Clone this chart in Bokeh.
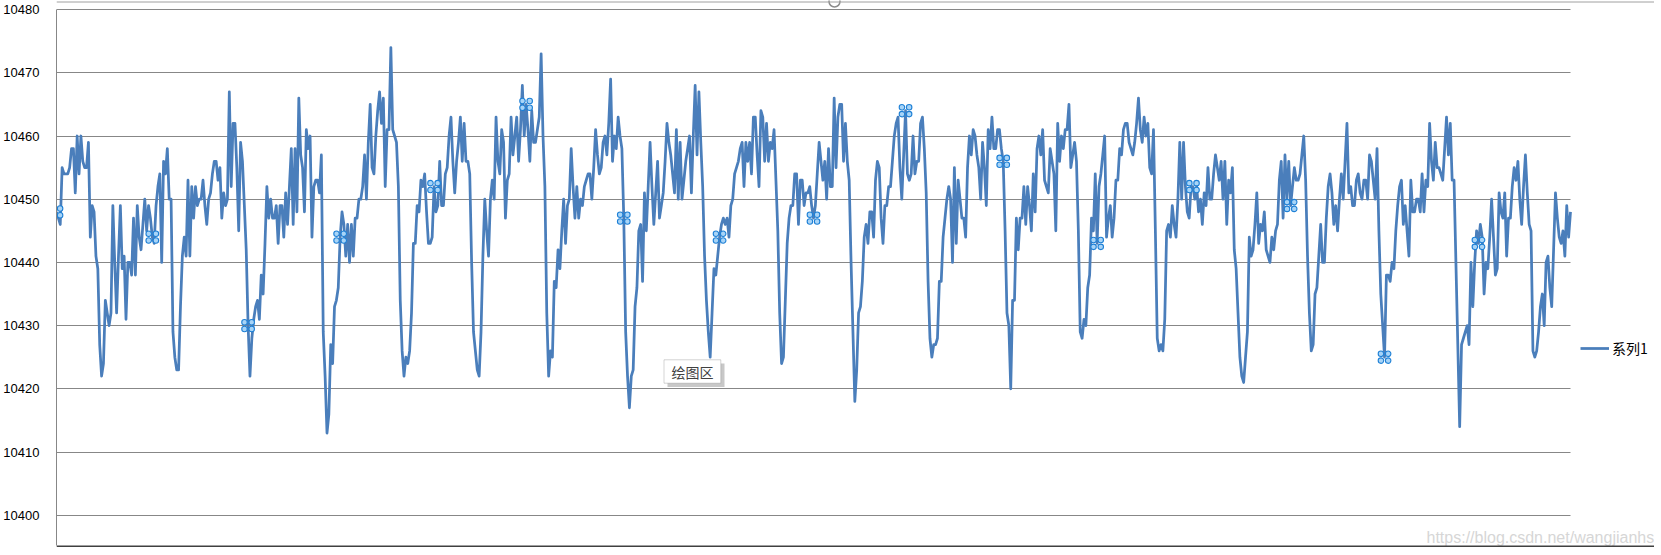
from bokeh.plotting import figure
from bokeh.models import FixedTicker, Legend, LegendItem, Label, BoxAnnotation, Range1d, Span
from bokeh.embed import file_html
from bokeh.resources import INLINE

# ---------------- data ----------------
series_name = "系列1"
y_ticks = [10400, 10410, 10420, 10430, 10440, 10450, 10460, 10470, 10480]

seg1 = [10448, 10447, 10446, 10455, 10454, 10454, 10454, 10455, 10458, 10458,
        10451, 10460, 10454, 10460, 10456, 10455, 10455, 10459, 10444, 10449,
        10448, 10441, 10439, 10427, 10422, 10424, 10434, 10432, 10430, 10432,
        10449, 10440, 10432, 10441, 10449, 10439, 10441, 10431, 10440, 10440,
        10438, 10447, 10438, 10449, 10444, 10442, 10446, 10450, 10445, 10449,
        10447, 10444, 10443, 10449, 10452, 10454, 10440, 10456, 10454, 10458,
        10450, 10450, 10429, 10425, 10423, 10423, 10433, 10441, 10444, 10441,
        10453, 10441, 10452, 10447, 10452, 10449, 10450, 10450, 10453, 10449,
        10446, 10450, 10451, 10454, 10456, 10456, 10453, 10455, 10447, 10451,
        10449, 10450, 10467, 10452, 10462, 10462, 10455, 10445, 10459]
seg2 = [10456, 10449, 10442, 10430, 10422, 10428, 10431, 10433, 10434, 10431,
        10438, 10435, 10443, 10452, 10447, 10450, 10447, 10447, 10449, 10443,
        10449, 10449, 10444, 10451, 10446, 10452, 10458, 10446, 10458, 10448,
        10466, 10457, 10455, 10448, 10461, 10458, 10460, 10444, 10452, 10453,
        10453, 10451, 10457, 10429, 10422, 10413, 10416, 10427, 10424, 10433,
        10434, 10436, 10444, 10448, 10446, 10441, 10446, 10440, 10446, 10441,
        10447, 10447, 10450, 10450, 10452, 10457, 10450, 10459, 10465, 10455,
        10454, 10460, 10464, 10467, 10462, 10466, 10452, 10461, 10461, 10474,
        10461, 10460, 10459, 10452, 10434, 10426, 10422, 10425, 10424, 10426,
        10432, 10443, 10443, 10449, 10448, 10453, 10452, 10454, 10448, 10443]
seg3 = [10443, 10444, 10452, 10448, 10449, 10456, 10449, 10449, 10454, 10455,
        10460, 10463, 10456, 10451, 10456, 10459, 10463, 10456, 10462, 10456,
        10456, 10454, 10440, 10429, 10426, 10423, 10422, 10429, 10441, 10450,
        10445, 10441, 10450, 10453, 10450, 10463, 10456, 10454, 10461, 10459,
        10447, 10453, 10454, 10463, 10457, 10460, 10463, 10456, 10461, 10468,
        10460, 10465, 10461, 10456, 10464, 10459, 10459, 10461, 10463, 10473,
        10460, 10452, 10432, 10422, 10426, 10425, 10437, 10436, 10442, 10439,
        10445, 10450, 10443, 10449, 10450, 10458, 10452, 10447, 10452, 10447,
        10450, 10449, 10452, 10453, 10454, 10454, 10450, 10455, 10461, 10457,
        10454, 10455, 10459, 10460, 10457, 10462, 10469, 10456, 10460, 10458]
seg4 = [10463, 10460, 10458, 10447, 10429, 10422, 10417, 10422, 10423, 10433,
        10436, 10445, 10446, 10437, 10451, 10445, 10452, 10459, 10452, 10446,
        10451, 10456, 10447, 10449, 10451, 10456, 10462, 10459, 10457, 10454,
        10451, 10461, 10450, 10459, 10450, 10453, 10456, 10458, 10460, 10451,
        10460, 10468, 10457, 10467, 10459, 10452, 10441, 10434, 10429, 10425,
        10432, 10439, 10438, 10441, 10444, 10446, 10447, 10446, 10447, 10444,
        10449, 10450, 10454, 10455, 10456, 10458, 10459, 10452, 10459, 10456,
        10459, 10454, 10463, 10463, 10457, 10452, 10464, 10463, 10456, 10462,
        10456, 10459, 10458, 10461, 10453, 10445, 10432, 10424, 10425, 10434,
        10443, 10447, 10449, 10449, 10454, 10454, 10446, 10453, 10453, 10449,
        10451, 10451]
seg5 = [10452, 10449, 10447, 10449, 10454, 10459, 10456, 10453, 10456, 10450,
        10458, 10452, 10452, 10466, 10455, 10463, 10465, 10465, 10456, 10462,
        10456, 10453, 10440, 10429, 10418, 10423, 10432, 10433, 10437, 10444,
        10446, 10443, 10448, 10448, 10444, 10453, 10456, 10455, 10447, 10443,
        10449, 10449, 10452, 10452, 10456, 10460, 10462, 10463, 10455, 10450,
        10457, 10464, 10454, 10453, 10454, 10460, 10454, 10456, 10456, 10462,
        10463, 10458, 10451, 10437, 10428, 10425, 10427, 10427, 10428, 10437,
        10437, 10444, 10447, 10450, 10452, 10450, 10440, 10455, 10443, 10453,
        10450, 10447, 10447, 10444, 10455, 10460, 10457, 10461, 10460, 10457,
        10455, 10450, 10459, 10455, 10449, 10461, 10458, 10463, 10458, 10458,
        10461]
seg6 = [10461, 10458, 10456, 10445, 10432, 10430, 10420, 10434, 10434, 10447,
        10442, 10447, 10447, 10452, 10446, 10452, 10449, 10445, 10454, 10448,
        10458, 10460, 10457, 10461, 10453, 10452, 10451, 10458, 10456, 10454,
        10445, 10462, 10456, 10460, 10458, 10461, 10461, 10465, 10455, 10457,
        10459, 10456, 10445, 10429, 10428, 10431, 10430, 10436, 10438, 10447,
        10445, 10454, 10443, 10452, 10454, 10457, 10460, 10444, 10447, 10449,
        10444, 10447, 10453, 10453, 10458, 10457, 10461, 10462, 10462, 10459,
        10458, 10457, 10459, 10462, 10466, 10461, 10459, 10463, 10460, 10462,
        10455, 10454, 10461, 10445, 10428, 10426, 10427, 10426, 10431, 10445,
        10446, 10444, 10449, 10446, 10444, 10450, 10459, 10450, 10459, 10452,
        10448, 10447]
seg7 = [10452, 10452, 10450, 10452, 10448, 10450, 10446, 10451, 10449, 10455,
        10450, 10450, 10454, 10457, 10455, 10453, 10456, 10450, 10456, 10446,
        10453, 10451, 10455, 10442, 10439, 10432, 10425, 10422, 10421, 10425,
        10429, 10444, 10441, 10442, 10446, 10451, 10443, 10446, 10445, 10448,
        10442, 10441, 10440, 10444, 10442, 10445, 10446, 10453, 10456, 10447,
        10457, 10450, 10456, 10449, 10452, 10455, 10453, 10453, 10454, 10457,
        10460, 10453, 10441, 10432, 10426, 10427, 10435, 10436, 10441, 10446,
        10440, 10440, 10447, 10452, 10454, 10451, 10446, 10449, 10445, 10450,
        10454, 10450, 10456, 10462, 10451, 10452, 10449, 10449, 10453, 10454,
        10451, 10450, 10453, 10453, 10450, 10457, 10456, 10453, 10450, 10458,
        10445, 10435]
seg8 = [10430, 10425, 10438, 10438, 10437, 10440, 10439, 10445, 10449, 10452,
        10453, 10446, 10449, 10445, 10441, 10453, 10448, 10448, 10450, 10450,
        10448, 10454, 10448, 10453, 10452, 10462, 10456, 10453, 10459, 10455,
        10455, 10454, 10453, 10458, 10463, 10457, 10462, 10453, 10453, 10440,
        10427, 10414, 10427, 10428, 10429, 10430, 10427, 10440, 10433, 10440,
        10445, 10443, 10446, 10444, 10435, 10440, 10439, 10444, 10450, 10444,
        10438, 10439, 10451, 10448, 10447, 10451, 10441, 10447, 10447, 10452,
        10455, 10453, 10456, 10450, 10446, 10452, 10457, 10451, 10446, 10445,
        10426, 10425, 10426, 10429, 10433, 10435, 10430, 10440, 10441, 10436,
        10433, 10442, 10451, 10447, 10444, 10443, 10445, 10441, 10449, 10444,
        10448]

# selection handles shown on the series (point index, value)
handle_idx = [0, 51, 102, 151, 201, 250, 302, 353, 403, 452, 504, 554, 605, 657, 707, 757]
handle_val = [10448, 10444, 10430, 10444, 10452, 10465, 10447, 10444, 10447, 10464,
              10456, 10443, 10452, 10449, 10425, 10443]

tip_text = "绘图区"
watermark_text = "https://blog.csdn.net/wangjianhs"

values = seg1 + seg2 + seg3 + seg4 + seg5 + seg6 + seg7 + seg8
xs = list(range(len(values)))

# ---------------- layout constants (figure pixels) ----------------
OFF_X, OFF_Y = 8, 0           # where the figure lands on the page (measured)
FIG_W, FIG_H = 1645, 547
FL = 47                       # frame left
FT = 0                        # frame top
FB = FIG_H                    # frame bottom
FW = FIG_W - FL               # frame reaches the right edge (legend + watermark inside)
FH = FB - FT
Y_TOP = y_ticks[-1]
TOP_TICK_PX = 9.1             # top grid line
PX_PER_UNIT = 6.32
DATA_W = 1514                 # pixels spanned by the series
X0, X1 = 0, len(values) - 1
PX_PER_X = DATA_W / (X1 - X0)

y_start = Y_TOP - (FB - TOP_TICK_PX) / PX_PER_UNIT
y_end = Y_TOP + (TOP_TICK_PX - FT) / PX_PER_UNIT
x_end = X0 + FW / PX_PER_X


def px2x(px):   # page px -> data x
    return X0 + (px - OFF_X - FL) / PX_PER_X


def px2y(py):   # page px -> data y
    return Y_TOP - (py - OFF_Y - TOP_TICK_PX) / PX_PER_UNIT


LINE_COLOR = "#4A7EBB"
GRID_COLOR = "#878787"

p = figure(frame_width=FW, frame_height=FH,
           min_border_left=FL, min_border_top=0,
           min_border_right=0, min_border_bottom=0,
           x_range=Range1d(X0, x_end), y_range=Range1d(y_start, y_end),
           x_axis_location=None, output_backend="svg", toolbar_location=None)

p.outline_line_color = None
p.background_fill_color = "white"
p.border_fill_color = "white"

yax = p.yaxis[0]
yax.ticker = FixedTicker(ticks=y_ticks)
yax.bounds = (px2y(545), Y_TOP)
yax.axis_line_color = GRID_COLOR
yax.axis_line_width = 1
yax.major_tick_line_color = None
yax.minor_tick_line_color = None
yax.major_label_standoff = 11
yax.major_label_text_font = "Liberation Sans"
yax.major_label_text_font_size = "13px"
yax.major_label_text_color = "#000000"

yg = p.ygrid[0]
yg.grid_line_color = GRID_COLOR
yg.grid_line_width = 1
if "cross_bounds" in yg.properties():
    yg.cross_bounds = (X0, X1)
p.xgrid.grid_line_color = None

# chart-area border (top edge) as seen in the screenshot
p.add_layout(Span(location=px2y(1.5), dimension="width", line_color="#A0A0A0", line_width=1))

line_r = p.line(xs, values, line_color=LINE_COLOR, line_width=2.75, line_join="round")

# selection handles: 2x2 little circles around a point
HX = 3.6 / PX_PER_X
HY = 3.4 / PX_PER_UNIT
for sx, sy in [(-1, 1), (1, 1), (-1, -1), (1, -1)]:
    p.scatter(x=[i + sx * HX for i in handle_idx], y=[v + sy * HY for v in handle_val],
              marker="circle", size=5.5, fill_color="#A8D4F7", line_color="#1E80D6",
              line_width=1.1)

# chart-area sizing handle at the top centre
p.scatter(x=[px2x(833)], y=[px2y(1)], marker="circle", size=11,
          fill_color="white", line_color="#8C8C8C", line_width=1.5)

# legend (inside the frame, to the right of the series)
LEG_ITEM_H = 20
legend = Legend(items=[LegendItem(label=series_name, renderers=[line_r])],
                location=(1579 - OFF_X - FL, FB - (348.3 - OFF_Y) - LEG_ITEM_H / 2),
                glyph_width=29, glyph_height=14, label_standoff=3,
                padding=0, margin=0, spacing=0,
                border_line_color=None, background_fill_alpha=0,
                label_text_font="Noto Sans CJK SC", label_text_font_size="14px",
                label_text_color="#000000", label_height=14)
p.add_layout(legend)

# "绘图区" tooltip with a soft shadow
p.add_layout(BoxAnnotation(left=px2x(666), right=px2x(723), top=px2y(363), bottom=px2y(386.5),
                           fill_color="#9A9A9A", fill_alpha=0.55, line_color=None))
p.add_layout(BoxAnnotation(left=px2x(662.5), right=px2x(719.3), top=px2y(359.3), bottom=px2y(382.7),
                           fill_color="white", fill_alpha=1.0, line_color="#707070", line_width=1))
p.add_layout(Label(x=px2x(691), y=px2y(371.3), text=tip_text, text_align="center",
                   text_baseline="middle", text_font="Noto Sans CJK SC",
                   text_font_size="14px", text_color="#404040"))

# watermark
p.add_layout(Label(x=px2x(1425), y=px2y(537), text=watermark_text, text_align="left",
                   text_baseline="middle", text_font="Liberation Sans",
                   text_font_size="16px", text_color="#D6D6D6"))

# dark window bar at the very bottom of the screenshot
p.add_layout(BoxAnnotation(bottom=y_start, top=px2y(545), fill_color="#404040",
                           fill_alpha=1.0, line_color=None))

open("out.html", "w").write(file_html(p, INLINE))
